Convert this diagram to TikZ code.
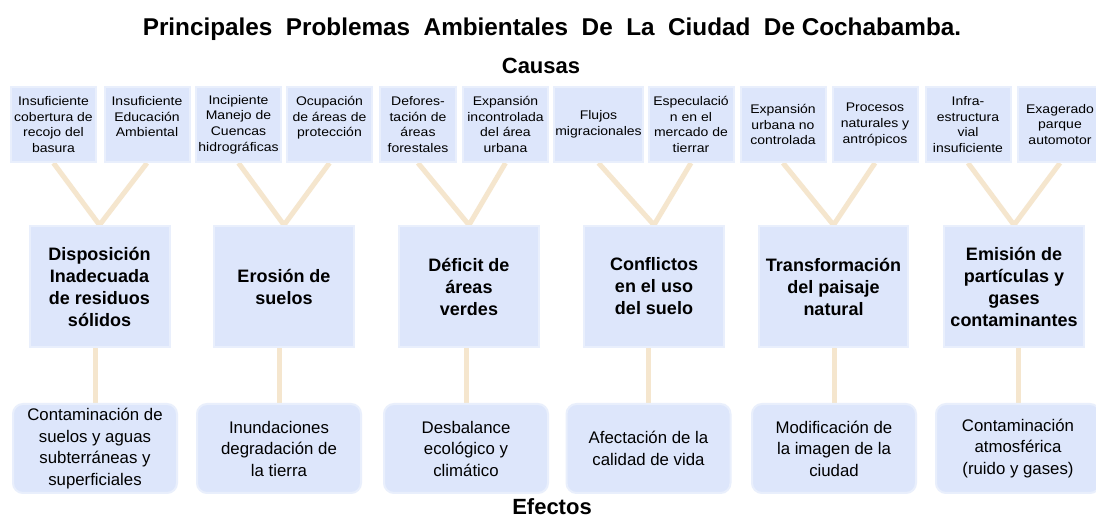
\documentclass[tikz,border=0pt]{standalone}
\usepackage{fontspec}
\setmainfont{Liberation Sans}
\newfontfamily\causefont{Liberation Sans}[FakeStretch=1.12]
\usepackage{tikz}
\definecolor{boxfill}{RGB}{221,230,251}
\definecolor{boxedge}{RGB}{233,239,252}
\definecolor{linkcol}{RGB}{245,230,206}
\pgfdeclarelayer{background}
\pgfsetlayers{background,main}

\begin{document}
\begin{tikzpicture}[x=1pt, y=-1pt,
  cause/.style={fill=boxfill, draw=boxedge, line width=2pt, minimum width=85pt, minimum height=75pt, inner sep=1pt, align=center, font=\causefont\fontsize{12.5}{15.8}\selectfont},
  problem/.style={fill=boxfill, draw=boxedge, line width=2pt, minimum width=140pt, minimum height=121pt, inner sep=1pt, align=center, font=\bfseries\fontsize{18}{22}\selectfont},
  effect/.style={fill=boxfill, draw=boxedge, line width=2pt, rounded corners=10pt, minimum width=164pt, minimum height=89pt, inner sep=1pt, align=center, font=\fontsize{16.8}{21.5}\selectfont},
  heading/.style={anchor=base, font=\bfseries\fontsize{22}{26}\selectfont},
  link/.style={draw=linkcol, line width=5pt}]

\useasboundingbox (0,0) rectangle (1096,518);

% Titles
\node[heading, font=\bfseries\fontsize{24.3}{28}\selectfont] (title) at (552,36)
  {Principales\ \ Problemas\ \ Ambientales\ \ De\ \ La\ \ Ciudad\ \ De Cochabamba.};
\node[heading] (causas) at (541,74) {Causas};
\node[heading] (efectos) at (552,515) {Efectos};


% Residuos solidos
\node[cause] (c1a) at (53.5,124.5) {Insuficiente\\cobertura de\\recojo del\\basura};
\node[cause] (c1b) at (147,124.5) {Insuficiente\\Educación\\Ambiental\\\mbox{}};
\node[problem] (p1) at (99.5,286.5) {Disposición\\Inadecuada\\de residuos\\sólidos};
\node[effect] (e1) at (95,448.5) {Contaminación de\\suelos y aguas\\subterráneas y\\superficiales};


% Erosion de suelos
\node[cause] (c2a) at (238.5,124.5) {Incipiente\\Manejo de\\Cuencas\\hidrográficas};
\node[cause] (c2b) at (329.5,124.5) {Ocupación\\de áreas de\\protección\\\mbox{}};
\node[problem] (p2) at (284,286.5) {Erosión de\\suelos};
\node[effect] (e2) at (279,448.5) {Inundaciones\\degradación de\\la tierra};


% Areas verdes
\node[cause, minimum width=76pt] (c3a) at (418,124.5) {Defores-\\tación de\\áreas\\forestales};
\node[cause] (c3b) at (505.5,124.5) {Expansión\\incontrolada\\del área\\urbana};
\node[problem] (p3) at (469,286.5) {Déficit de\\áreas\\verdes};
\node[effect] (e3) at (466,448.5) {Desbalance\\ecológico y\\climático};


% Uso del suelo
\node[cause] (c4a) at (598.5,124.5) {Flujos\\migracionales};
\node[cause] (c4b) at (691,124.5) {Especulació\\n en el\\mercado de\\tierrar};
\node[problem] (p4) at (654,286.5) {Conflictos\\en el uso\\del suelo};
\node[effect] (e4) at (648.5,448.5) {Afectación de la\\calidad de vida};


% Paisaje natural
\node[cause] (c5a) at (783,124.5) {Expansión\\urbana no\\controlada};
\node[cause] (c5b) at (875,124.5) {Procesos\\naturales y\\antrópicos};
\node[problem, minimum width=149pt] (p5) at (833.5,286.5) {Transformación\\del paisaje\\natural};
\node[effect] (e5) at (834,448.5) {Modificación de\\la imagen de la\\ciudad};


% Particulas y gases
\node[cause] (c6a) at (968,124.5) {Infra-\\estructura\\vial\\insuficiente};
\node[cause] (c6b) at (1060,124.5) {Exagerado\\parque\\automotor};
\node[problem] (p6) at (1014,286.5) {Emisión de\\partículas y\\gases\\contaminantes};
\node[effect] (e6) at (1018,448.5) {Contaminación\\atmosférica\\(ruido y gases)};


% Links
\begin{pgfonlayer}{background}
\fill[white] (0,0) rectangle (1096,518);

\draw[link] (c1a.south) -- (p1.north) -- (c1b.south);
\draw[link] (c2a.south) -- (p2.north) -- (c2b.south);
\draw[link] (c3a.south) -- (p3.north) -- (c3b.south);
\draw[link] (c4a.south) -- (p4.north) -- (c4b.south);
\draw[link] (c5a.south) -- (p5.north) -- (c5b.south);
\draw[link] (c6a.south) -- (p6.north) -- (c6b.south);

\draw[link] (e1.north) -- (e1.north |- p1.south);
\draw[link] (e2.north) -- (e2.north |- p2.south);
\draw[link] (e3.north) -- (e3.north |- p3.south);
\draw[link] (e4.north) -- (e4.north |- p4.south);
\draw[link] (e5.north) -- (e5.north |- p5.south);
\draw[link] (e6.north) -- (e6.north |- p6.south);
\end{pgfonlayer}

\end{tikzpicture}
\end{document}
